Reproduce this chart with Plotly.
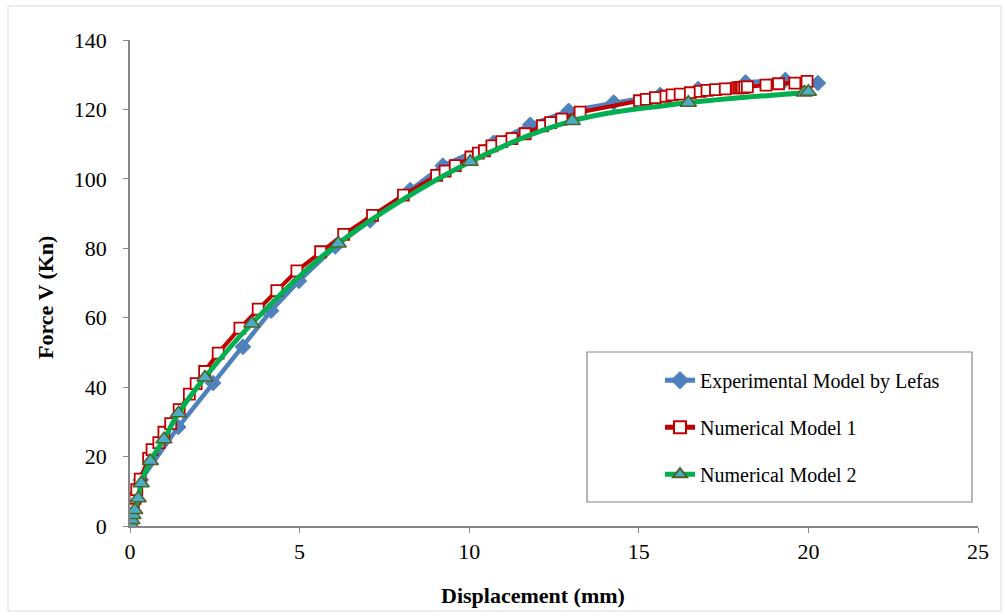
import plotly.graph_objects as go

# ---- data ----
exp_x = [0, 0.32, 1.42, 2.45, 3.33, 4.16, 4.98, 6.05, 7.08, 8.26, 9.22, 10.72, 11.8, 12.93, 14.26, 15.63, 16.75, 18.15, 19.32, 20.28]
exp_y = [0, 13.3, 28.5, 41.2, 51.6, 62.0, 70.6, 80.5, 88.0, 96.8, 103.8, 110.4, 115.6, 119.6, 122.0, 124.2, 125.9, 127.8, 128.5, 127.6]

num1_x = [0, 0.02, 0.05, 0.1, 0.15, 0.2, 0.3, 0.55, 0.65, 0.85, 1.0, 1.2, 1.45, 1.75, 1.95, 2.2, 2.6, 3.24, 3.78, 4.33,
          4.92, 5.62, 6.3, 7.15, 8.06, 9.04, 9.29, 9.59, 10.05, 10.27, 10.45, 10.67, 10.96, 11.26, 11.65, 12.16, 12.4, 12.73,
          13.27, 15.02, 15.22, 15.49, 15.8, 15.98, 16.22, 16.52, 16.81, 17.01, 17.26, 17.55, 17.9, 17.95, 18.0, 18.05,
          18.12, 18.2, 18.75, 19.12, 19.6, 19.96]
num1_y = [0, 1.5, 3.0, 5.5, 8.0, 10.5, 13.5, 19.5, 22.0, 24.0, 27.0, 29.5, 33.5, 38.0, 41.0, 44.5, 49.8, 57.0, 62.5, 67.8,
          73.5, 79.0, 84.0, 89.5, 95.3, 101.0, 102.2, 103.8, 106.3, 107.4, 108.1, 109.5, 110.7, 111.6, 113.0, 115.3, 116.2, 117.2,
          119.2, 122.5, 122.9, 123.4, 123.8, 124.2, 124.4, 124.8, 125.2, 125.5, 125.7, 125.9, 126.2, 126.2, 126.3, 126.3,
          126.4, 126.5, 127.0, 127.4, 127.6, 128.1]

num2_x = [0, 0.04, 0.06, 0.09, 0.14, 0.24, 0.33, 0.6, 1.0, 1.43, 2.21, 3.59, 6.14, 10.03, 13.04, 16.46, 19.88, 20.0]
num2_y = [0, 0.4, 1.7, 3.2, 4.6, 8.0, 12.3, 18.7, 25.0, 32.5, 42.8, 58.3, 81.4, 104.9, 116.7, 121.9, 124.9, 125.1]

x_ticks = [0, 5, 10, 15, 20, 25]
y_ticks = [0, 20, 40, 60, 80, 100, 120, 140]

FONT = "Liberation Serif"

fig = go.Figure()
fig.add_trace(go.Scatter(
    x=exp_x, y=exp_y, name="Experimental Model by Lefas", mode="lines+markers",
    line=dict(color="#4F81BD", width=4.5),
    marker=dict(symbol="diamond", size=12, color="#4F81BD", line=dict(color="#4F81BD", width=1)),
    legendgroup="a"))
fig.add_trace(go.Scatter(
    x=num1_x, y=num1_y, name="Numerical Model 1", mode="lines+markers",
    line=dict(color="#C00000", width=4),
    marker=dict(symbol="square", size=11, color="white", line=dict(color="#C00000", width=1.8)),
    legendgroup="b"))
fig.add_trace(go.Scatter(
    x=num2_x, y=num2_y, name="Numerical Model 2", mode="lines+markers",
    line=dict(color="#00B050", width=5, shape="spline"),
    marker=dict(symbol="triangle-up", size=14, color="#4BACC6", line=dict(color="#4F6228", width=1.5)),
    legendgroup="c"))

axis_common = dict(showgrid=False, zeroline=False, showline=True, linecolor="#868686", linewidth=1.5,
                   ticks="outside", ticklen=5, tickcolor="#868686",
                   tickfont=dict(family=FONT, size=22, color="black"))

fig.update_layout(
    width=1005, height=616,
    margin=dict(l=130, r=27, t=40, b=90),
    paper_bgcolor="white", plot_bgcolor="white",
    xaxis=dict(range=[0, 25], tickvals=x_ticks, ticklabelstandoff=0, **axis_common),
    yaxis=dict(range=[0, 140], tickvals=y_ticks, ticklabelstandoff=12, **axis_common),
    showlegend=True,
    legend=dict(x=0.625, y=0.34, xanchor="left", yanchor="top", bgcolor="rgba(0,0,0,0)",
                borderwidth=0, font=dict(family=FONT, size=20, color="black"),
                tracegroupgap=18, itemsizing="constant"),
    font=dict(family=FONT),
)

# legend frame
fig.add_shape(type="rect", xref="paper", yref="paper",
              x0=(587 - 130) / 848, x1=(972 - 130) / 848,
              y0=(526 - 502) / 486, y1=(526 - 352) / 486,
              line=dict(color="#868686", width=1.2), fillcolor="rgba(0,0,0,0)")
# outer chart border
fig.add_shape(type="rect", xref="paper", yref="paper",
              x0=(8 - 130) / 848, x1=(1001 - 130) / 848,
              y0=(526 - 611) / 486, y1=(526 - 6) / 486,
              line=dict(color="#D9D9D9", width=1), fillcolor="rgba(0,0,0,0)")

# axis titles
fig.add_annotation(text="<b>Displacement (mm)</b>", xref="paper", yref="paper",
                   x=(533 - 130) / 848, y=(526 - 595) / 486, showarrow=False,
                   xanchor="center", yanchor="middle",
                   font=dict(family=FONT, size=22, color="black"))
fig.add_annotation(text="<b>Force V (Kn)</b>", xref="paper", yref="paper",
                   x=(45 - 130) / 848, y=(526 - 298) / 486, showarrow=False, textangle=-90,
                   xanchor="center", yanchor="middle",
                   font=dict(family=FONT, size=22, color="black"))

fig.write_html("out.html")
